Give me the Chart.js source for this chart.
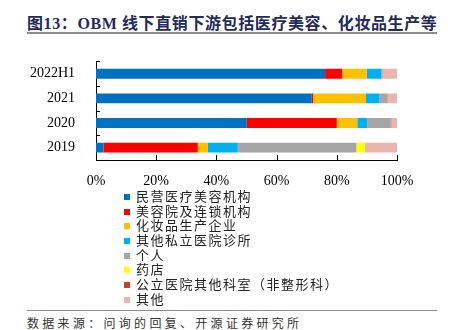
<!DOCTYPE html>
<html>
<head>
<meta charset="utf-8">
<script src="https://cdn.jsdelivr.net/npm/chart.js@4.4.0/dist/chart.umd.min.js"></script>
<style>
  body { margin: 0; background: #fff; width: 455px; height: 330px; position: relative; overflow: hidden; }
  #title { position: absolute; left: 27px; top: 10px; width: 410px; height: 22px; border-bottom: 2px solid #8c8c8c;
    font: bold 16px "Liberation Serif", "Noto Sans CJK SC", serif; color: #1f2a5e; white-space: nowrap; letter-spacing: 0.6px; }
  #box { position: absolute; left: 0; top: 40px; width: 455px; height: 150px; }
  #legend { position: absolute; left: 124px; top: 186px; }
  .item { height: 14.7px; line-height: 14.7px; font: 13px "Noto Sans CJK SC", sans-serif; color: #222; letter-spacing: 1.5px; white-space: nowrap; }
  .item span { display: inline-block; width: 6px; height: 6px; margin-right: 6px; vertical-align: 1px; }
  #src { position: absolute; left: 27px; top: 310px; width: 410px; border-top: 1px solid #8c8c8c; padding-top: 3px;
    font: 12px "Noto Sans CJK SC", sans-serif; color: #333; letter-spacing: 3.3px; white-space: nowrap; }
</style>
</head>
<body>
<div id="title">图13：OBM 线下直销下游包括医疗美容、化妆品生产等</div>
<div id="box"><canvas id="myChart"></canvas></div>
<div id="legend"></div>
<div id="src">数据来源：问询的回复、开源证券研究所</div>
<script>
// 年份（从上到下）
var years = ['2022H1', '2021', '2020', '2019'];

// 各类客户占比，%
var minying = [76.1, 71.7, 50.1, 2.5];   // 民营医疗美容机构
var meirong = [5.7, 0.4, 29.9, 31.3];    // 美容院及连锁机构
var huazhuang = [8.2, 17.6, 6.8, 3.4];   // 化妆品生产企业
var siliyi = [4.8, 4.5, 3.3, 9.9];       // 其他私立医院诊所
var geren = [0.3, 2.5, 7.8, 39.4];       // 个人
var yaodian = [0, 0, 0, 2.8];            // 药店
var gongli = [0.1, 0.1, 0.2, 0];         // 公立医院其他科室（非整形科）
var qita = [4.8, 3.2, 1.9, 10.7];        // 其他

var xTicks = [0, 20, 40, 60, 80, 100];

var seriesNames = ['民营医疗美容机构', '美容院及连锁机构', '化妆品生产企业', '其他私立医院诊所',
    '个人', '药店', '公立医院其他科室（非整形科）', '其他'];
var seriesData = [minying, meirong, huazhuang, siliyi, geren, yaodian, gongli, qita];
var colors = ['#0070c0', '#ff0000', '#ffc000', '#00b0f0', '#a5a5a5', '#ffff00', '#c0452f', '#ebb5ae'];

var datasets = seriesNames.map(function(name, i) {
    return {
        label: name,
        data: seriesData[i],
        backgroundColor: colors[i],
        borderWidth: 0,
        categoryPercentage: 0.4,
        barPercentage: 1
    };
});

// 刻度线朝内画
var innerTicks = {
    id: 'innerTicks',
    afterDraw: function(chart) {
        var ctx = chart.ctx;
        var x = chart.scales.x, y = chart.scales.y;
        ctx.save();
        ctx.strokeStyle = '#000';
        ctx.lineWidth = 1;
        ctx.beginPath();
        xTicks.forEach(function(v) {
            var px = Math.round(x.getPixelForValue(v)) + 0.5;
            ctx.moveTo(px, y.bottom);
            ctx.lineTo(px, y.bottom - 5);
        });
        for (var i = 0; i <= years.length; i++) {
            var py = Math.round(y.getPixelForValue(i - 0.5)) + 0.5;
            ctx.moveTo(x.left, py);
            ctx.lineTo(x.left + 4, py);
        }
        ctx.stroke();
        ctx.restore();
    }
};

var ctx = document.getElementById('myChart').getContext('2d');
var myChart = new Chart(ctx, {
    type: 'bar',
    data: { labels: years, datasets: datasets },
    plugins: [innerTicks],
    options: {
        indexAxis: 'y',
        responsive: true,
        maintainAspectRatio: false,
        animation: false,
        layout: { padding: { left: 0, right: 58, top: 8, bottom: 0 } },
        plugins: {
            legend: { display: false },
            tooltip: { enabled: false }
        },
        scales: {
            x: {
                stacked: true,
                min: 0,
                max: 100,
                afterBuildTicks: function(scale) {
                    scale.ticks = xTicks.map(function(v) { return { value: v }; });
                },
                afterFit: function(scale) { scale.height = 30; },
                grid: { display: false },
                border: { display: true, color: '#000', width: 1 },
                ticks: {
                    padding: 5,
                    color: '#000',
                    font: { family: 'Liberation Serif', size: 14 },
                    callback: function(v) { return v + '%'; }
                }
            },
            y: {
                stacked: true,
                afterFit: function(scale) { scale.width = 96; },
                grid: { display: false },
                border: { display: true, color: '#000', width: 1 },
                ticks: {
                    padding: 13,
                    color: '#000',
                    font: { family: 'Liberation Serif', size: 14 }
                }
            }
        }
    }
});

// 图例一列竖排
var legendHtml = '';
datasets.forEach(function(d) {
    legendHtml += '<div class="item"><span style="background:' + d.backgroundColor + '"></span>' + d.label + '</div>';
});
document.getElementById('legend').innerHTML = legendHtml;
</script>
</body>
</html>
